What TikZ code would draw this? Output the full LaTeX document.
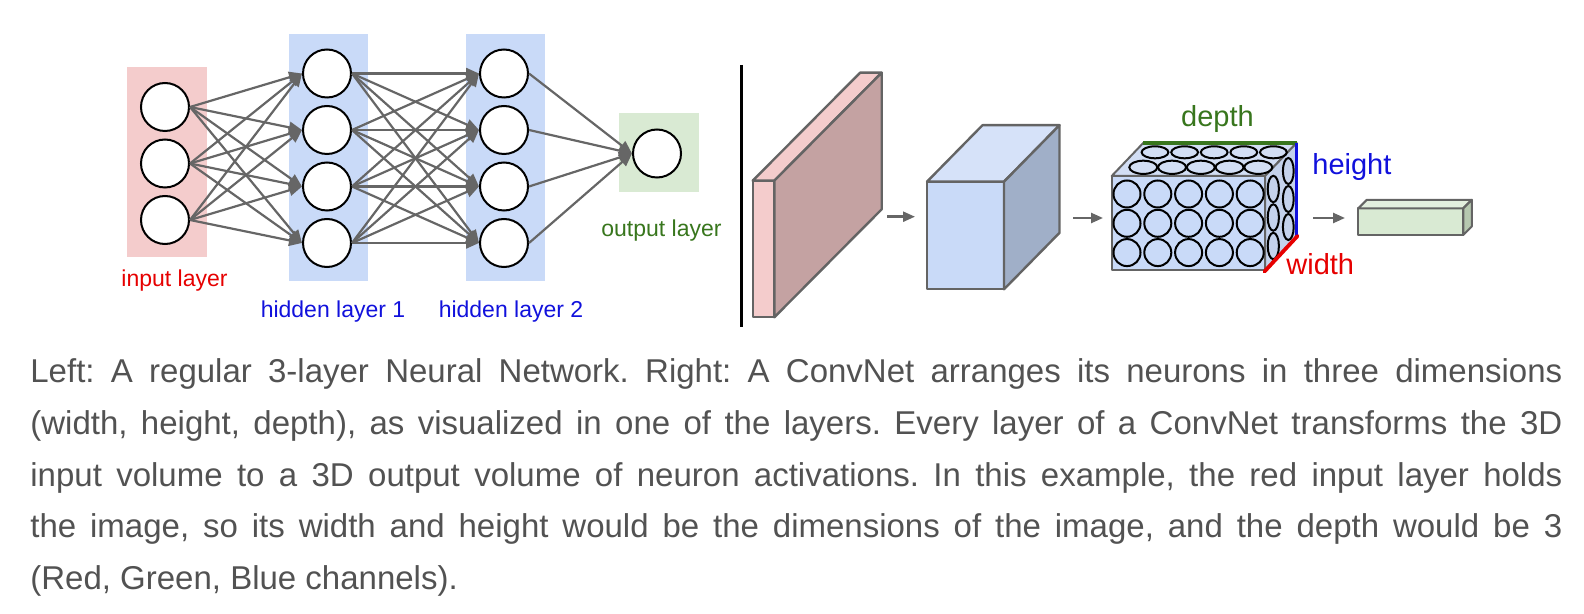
\documentclass[tikz,border=0pt]{standalone}
\usepackage{fontspec}
\setmainfont{Liberation Sans}
\usetikzlibrary{arrows.meta}
\definecolor{pinkbg}{RGB}{244,204,204}
\definecolor{bluebg}{RGB}{201,218,248}
\definecolor{greenbg}{RGB}{217,234,211}
\definecolor{arrowgray}{RGB}{102,102,102}
\definecolor{slabside}{RGB}{196,162,162}
\definecolor{cubetop}{RGB}{214,226,249}
\definecolor{cubeside}{RGB}{160,175,200}
\definecolor{nbtop}{RGB}{210,222,244}
\definecolor{nbside}{RGB}{196,210,236}
\definecolor{gbtop}{RGB}{226,238,222}
\definecolor{gbside}{RGB}{182,200,176}
\definecolor{outl}{RGB}{100,100,100}
\definecolor{capgray}{RGB}{82,82,82}
\definecolor{lblred}{RGB}{230,0,0}
\definecolor{lblblue}{RGB}{17,17,220}
\definecolor{lblgreen}{RGB}{56,118,29}
\frenchspacing
\begin{document}
\begin{tikzpicture}[x=0.5pt,y=-0.5pt,
  neuron/.style={circle,draw=black,fill=white,line width=1pt,minimum size=24pt,inner sep=0pt},
  conn/.style={draw=arrowgray,line width=1.1pt,-{Triangle[length=6.5pt,width=5.5pt]}},
  smallarr/.style={draw=arrowgray,line width=1.2pt,-{Triangle[length=6pt,width=5pt]}},
  lbl/.style={inner sep=0pt,anchor=base,font=\fontsize{11.5}{13}\selectfont},
  rlbl/.style={inner sep=0pt,font=\fontsize{14.5}{17}\selectfont},
  capline/.style={inner sep=0pt,anchor=base west,text=capgray,font=\fontsize{16.5}{20}\selectfont},
  solid3d/.style={draw=outl,line width=1.2pt,line join=round},
  thin3d/.style={draw=outl,line width=1pt,line join=round},
  nring/.style={draw=black,line width=1pt}]
\useasboundingbox (0,0) rectangle (1584,614);

% ---------- layer backgrounds ----------
\fill[pinkbg] (127,67) rectangle (206.5,257.5);
\fill[bluebg] (288.5,34) rectangle (367.5,281);
\fill[bluebg] (466,34) rectangle (545,281);
\fill[greenbg] (619,113.5) rectangle (698.5,192.5);

% ---------- neurons ----------
\node[neuron] (i1) at (165,107) {};
\node[neuron] (i2) at (165,163.5) {};
\node[neuron] (i3) at (165,220) {};
\node[neuron] (h1) at (327,73.5) {};
\node[neuron] (h2) at (327,130) {};
\node[neuron] (h3) at (327,186.5) {};
\node[neuron] (h4) at (327,243) {};
\node[neuron] (g1) at (504,73.5) {};
\node[neuron] (g2) at (504,130) {};
\node[neuron] (g3) at (504,186.5) {};
\node[neuron] (g4) at (504,243) {};
\node[neuron] (o1) at (657,153.5) {};

% ---------- connections ----------
\foreach \a in {1,2,3}{\foreach \b in {1,2,3,4}{\draw[conn] (i\a.east) -- (h\b.west);}}
\foreach \a in {1,2,3,4}{\foreach \b in {1,2,3,4}{\draw[conn] (h\a.east) -- (g\b.west);}}
\foreach \a in {1,2,3,4}{\draw[conn] (g\a.east) -- (o1.west);}

% ---------- left labels ----------
\node[lbl,text=lblred] (linput) at (174.5,286.7) {input layer};
\node[lbl,text=lblblue] (lh1) at (333,318) {hidden layer 1};
\node[lbl,text=lblblue] (lh2) at (511,318) {hidden layer 2};
\node[lbl,text=lblgreen] (lout) at (661.5,236.7) {output layer};

% ---------- separator ----------
\coordinate (sepT) at (741.7,65);
\coordinate (sepB) at (741.7,327);
\draw[black,line width=1.25pt] (sepT) -- (sepB);

% ---------- pink slab ----------
\path[solid3d,fill=pinkbg] (752.7,180.7) rectangle (774.3,317.3);
\path[solid3d,fill=pinkbg] (752.7,180.7) -- (860.1,72.7) -- (881.7,72.7) -- (774.3,180.7) -- cycle;
\path[solid3d,fill=slabside] (774.3,180.7) -- (881.7,72.7) -- (881.7,209.3) -- (774.3,317.3) -- cycle;

\coordinate (a1s) at (887,216.7);
\coordinate (a1e) at (915,216.7);
\draw[smallarr] (a1s) -- (a1e);

% ---------- blue cube ----------
\path[solid3d,fill=bluebg] (927,181.7) rectangle (1004,289.3);
\path[solid3d,fill=cubetop] (927,181.7) -- (982.5,125.2) -- (1059.5,125.2) -- (1004,181.7) -- cycle;
\path[solid3d,fill=cubeside] (1004,181.7) -- (1059.5,125.2) -- (1059.5,232.8) -- (1004,289.3) -- cycle;

\coordinate (a2s) at (1073,218);
\coordinate (a2e) at (1103,218);
\draw[smallarr] (a2s) -- (a2e);

% ---------- neuron volume ----------
\path[thin3d,fill=bluebg] (1111.7,176) rectangle (1265,270);
\path[thin3d,fill=nbtop] (1111.7,176) -- (1143.2,143) -- (1296.5,143) -- (1265,176) -- cycle;
\path[thin3d,fill=nbside] (1265,176) -- (1296.5,143) -- (1296.5,237) -- (1265,270) -- cycle;
% front circles
\foreach \c in {0,...,4}{\foreach \r in {0,1,2}{
  \draw[nring] ({1127+30.8*\c},{194+29.3*\r}) circle[radius=6.75pt];}}
% top ellipses
\foreach \c in {0,...,4}{
  \draw[nring] ({1155+29.6*\c},152.3) ellipse[x radius=6.7pt,y radius=3pt];
  \draw[nring] ({1143.3+28.75*\c},167.3) ellipse[x radius=7pt,y radius=3.3pt];}
% side ellipses
\foreach \r in {0,1,2}{
  \draw[nring] (1288.3,{171+28*\r}) ellipse[x radius=2.7pt,y radius=6.5pt];
  \draw[nring] (1273.3,{189+28.5*\r}) ellipse[x radius=2.8pt,y radius=6.6pt];}
% dimension edges
\coordinate (dA) at (1143.2,143);
\coordinate (dB) at (1296.5,143);
\coordinate (dC) at (1296.5,237);
\coordinate (dD) at (1264.5,271.5);
\coordinate (dE) at (1297.5,236);
\draw[lblgreen,line width=1.75pt] (dA) -- (dB);
\draw[lblblue,line width=1.75pt] (dB) -- (dC);
\draw[lblred,line width=1.9pt,line cap=round] (dD) -- (dE);
\node[rlbl,anchor=base,text=lblgreen] (ldepth) at (1217.5,127) {depth};
\node[rlbl,anchor=base west,text=lblblue] (lheight) at (1312,175) {height};
\node[rlbl,anchor=base west,text=lblred] (lwidth) at (1286,275) {width};

\coordinate (a3s) at (1313,218);
\coordinate (a3e) at (1345,218);
\draw[smallarr] (a3s) -- (a3e);

% ---------- green output block ----------
\path[thin3d,fill=greenbg] (1358.3,208.3) rectangle (1463.3,235);
\path[thin3d,fill=gbtop] (1358.3,208.3) -- (1366.8,199.8) -- (1471.8,199.8) -- (1463.3,208.3) -- cycle;
\path[thin3d,fill=gbside] (1463.3,208.3) -- (1471.8,199.8) -- (1471.8,226.5) -- (1463.3,235) -- cycle;

% ---------- caption ----------
\node[capline] (c1) at (30,383) {\makebox[766pt][s]{Left: A regular 3-layer Neural Network. Right: A ConvNet arranges its neurons in three dimensions}};
\node[capline] (c2) at (30,434.5) {\makebox[766pt][s]{(width, height, depth), as visualized in one of the layers. Every layer of a ConvNet transforms the 3D}};
\node[capline] (c3) at (30,486) {\makebox[766pt][s]{input volume to a 3D output volume of neuron activations. In this example, the red input layer holds}};
\node[capline] (c4) at (30,537.5) {\makebox[766pt][s]{the image, so its width and height would be the dimensions of the image, and the depth would be 3}};
\node[capline] (c5) at (30,589) {(Red, Green, Blue channels).};
\end{tikzpicture}
\end{document}
